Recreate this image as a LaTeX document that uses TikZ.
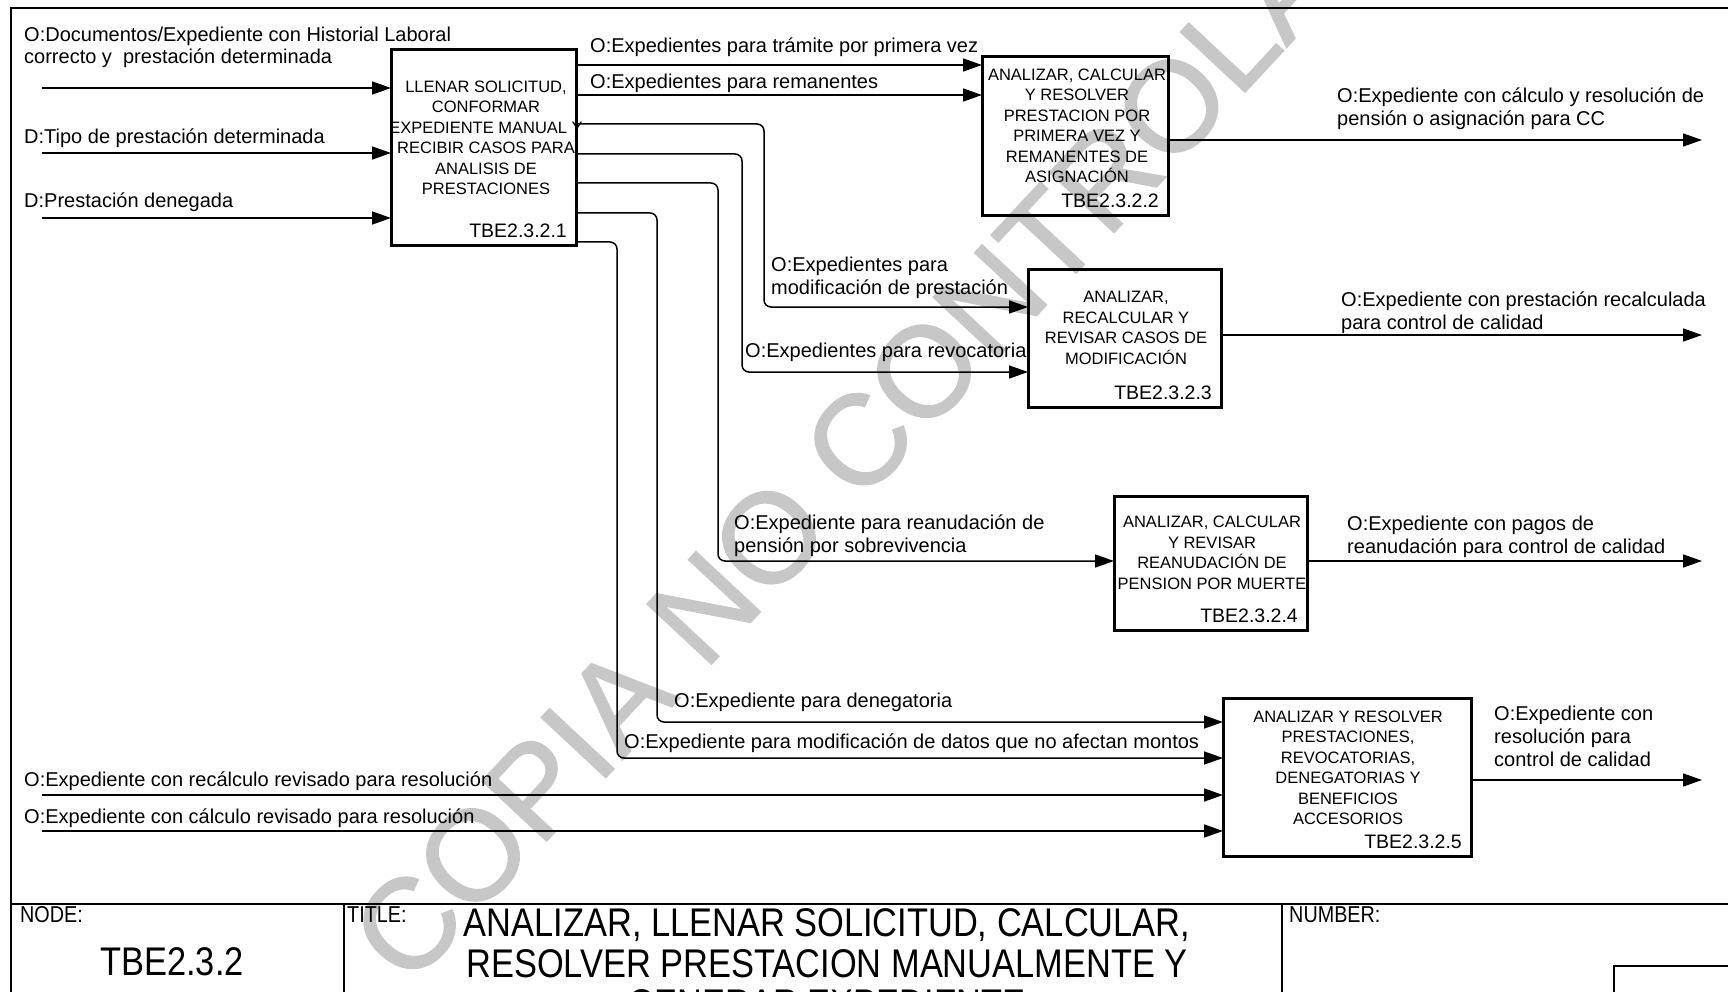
\documentclass[tikz,border=0pt]{standalone}
\usepackage{fontspec}
\setmainfont{Liberation Sans}
\newfontfamily\narrowfont[FakeStretch=0.86]{Liberation Sans}
\newfontfamily\wmfont[FakeBold=1.2]{Liberation Sans}
\usetikzlibrary{arrows.meta,calc}
\tikzset{
 lbl/.style={anchor=base west, inner sep=0pt, font=\fontsize{20}{22.5}\selectfont},
 proc/.style={draw, line width=3pt, anchor=north west, inner sep=0pt, outer sep=0pt},
 boxtxt/.style={align=center, inner sep=0pt, font=\fontsize{16.5}{20.5}\selectfont},
 boxid/.style={anchor=base east, inner sep=0pt, font=\fontsize{19.5}{20.5}\selectfont},
 arr/.style={line width=1.5pt, -{Triangle[length=19pt,width=13pt]}},
 rc/.style={rounded corners=7pt},
 frame/.style={line width=1.6pt},
 small/.style={anchor=base west, inner sep=0pt, font=\narrowfont\fontsize{23}{24}\selectfont},
 big/.style={anchor=base, inner sep=0pt, font=\narrowfont\fontsize{40}{42}\selectfont},
 wm/.style={text=black!22, font=\wmfont\fontsize{128}{128}\selectfont, rotate=47, inner sep=0pt},
}
\begin{document}
\begin{tikzpicture}[x=1pt,y=-1pt]
\useasboundingbox (0,0) rectangle (1728,992);
\fill[white] (0,0) rectangle (1728,992);
\clip (0,0) rectangle (1728,992);
% watermark
\node[wm] (wm) at (905,392) {COPIA NO CONTROLADA};
% frame and title block
\draw[frame] (11,1010) -- (11,8) -- (1740,8);
\draw[frame] (11,904) -- (1740,904);
\draw[frame] (344,904) -- (344,1010);
\draw[frame] (1282,904) -- (1282,1010);
\draw[frame] (1614,1010) -- (1614,966) -- (1740,966);
\node[small] (nodelbl) at (20,922) {NODE:};
\node[small] (titlelbl) at (347,922) {TITLE:};
\node[small] (numlbl) at (1289,922) {NUMBER:};
\node[big] (nodeid) at (172,975) {TBE2.3.2};
\node[big] (t1) at (827,936) {ANALIZAR, LLENAR SOLICITUD, CALCULAR,};
\node[big] (t2) at (827,977) {RESOLVER PRESTACION MANUALMENTE Y};
\node[big] (t3) at (827,1017) {GENERAR EXPEDIENTE};
% boxes
\node[proc, minimum width=185pt, minimum height=196pt] (b1) at (391,50) {};
\node[proc, minimum width=186pt, minimum height=159pt] (b2) at (982,57) {};
\node[proc, minimum width=193pt, minimum height=138pt] (b3) at (1028,269) {};
\node[proc, minimum width=193pt, minimum height=134pt] (b4) at (1114,496) {};
\node[proc, minimum width=248pt, minimum height=158pt] (b5) at (1223,698) {};
\node[boxtxt] (b1t) at (486,138) {LLENAR SOLICITUD,\\CONFORMAR\\EXPEDIENTE MANUAL Y\\RECIBIR CASOS PARA\\ANALISIS DE\\PRESTACIONES};
\node[boxtxt] (b2t) at (1077,126) {ANALIZAR, CALCULAR\\Y RESOLVER\\PRESTACION POR\\PRIMERA VEZ Y\\REMANENTES DE\\ASIGNACIÓN};
\node[boxtxt] (b3t) at (1126,328) {ANALIZAR,\\RECALCULAR Y\\REVISAR CASOS DE\\MODIFICACIÓN};
\node[boxtxt] (b4t) at (1212,553) {ANALIZAR, CALCULAR\\Y REVISAR\\REANUDACIÓN DE\\PENSION POR MUERTE};
\node[boxtxt] (b5t) at (1348,768) {ANALIZAR Y RESOLVER\\PRESTACIONES,\\REVOCATORIAS,\\DENEGATORIAS Y\\BENEFICIOS\\ACCESORIOS};
\node[boxid] (b1id) at ($(b1.south east)+(-9,-8)$) {TBE2.3.2.1};
\node[boxid] (b2id) at ($(b2.south east)+(-9,-8)$) {TBE2.3.2.2};
\node[boxid] (b3id) at ($(b3.south east)+(-9,-8)$) {TBE2.3.2.3};
\node[boxid] (b4id) at ($(b4.south east)+(-9,-8)$) {TBE2.3.2.4};
\node[boxid] (b5id) at ($(b5.south east)+(-9,-8)$) {TBE2.3.2.5};
% free ends
\coordinate (in1) at (42,88);
\coordinate (in2) at (42,153);
\coordinate (in3) at (42,218);
\coordinate (in4) at (42,795);
\coordinate (in5) at (42,831);
\coordinate (out2) at (1702,140);
\coordinate (out3) at (1702,335);
\coordinate (out4) at (1702,561);
\coordinate (out5) at (1702,780);
% connectors
\draw[arr] (in1) -- (b1.west |- in1);
\draw[arr] (in2) -- (b1.west |- in2);
\draw[arr] (in3) -- (b1.west |- in3);
\draw[arr] (b1.east |- 0,65) -- (b2.west |- 0,65);
\draw[arr] (b1.east |- 0,95) -- (b2.west |- 0,95);
\draw[arr,rc] (b1.east |- 0,124) -| (764,307) -- (b3.west |- 0,307);
\draw[arr,rc] (b1.east |- 0,154) -| (742,372) -- (b3.west |- 0,372);
\draw[arr,rc] (b1.east |- 0,183) -| (718,561) -- (b4.west |- 0,561);
\draw[arr,rc] (b1.east |- 0,213) -| (657,722) -- (b5.west |- 0,722);
\draw[arr,rc] (b1.east |- 0,242) -| (617,758) -- (b5.west |- 0,758);
\draw[arr] (in4) -- (b5.west |- in4);
\draw[arr] (in5) -- (b5.west |- in5);
\draw[arr] (b2.east |- out2) -- (out2);
\draw[arr] (b3.east |- out3) -- (out3);
\draw[arr] (b4.east |- out4) -- (out4);
\draw[arr] (b5.east |- out5) -- (out5);
% labels
\node[lbl] (l1) at (24,42) {O:Documentos/Expediente con Historial Laboral};
\node[lbl] (l1b) at (24,64) {correcto y\ \ prestación determinada};
\node[lbl] (l2) at (24,144) {D:Tipo de prestación determinada};
\node[lbl] (l3) at (24,208) {D:Prestación denegada};
\node[lbl] (l4) at (590,53) {O:Expedientes para trámite por primera vez};
\node[lbl] (l5) at (590,89) {O:Expedientes para remanentes};
\node[lbl] (l6) at (1337,102.5) {O:Expediente con cálculo y resolución de};
\node[lbl] (l6b) at (1337,125.5) {pensión o asignación para CC};
\node[lbl] (l7) at (771,271) {O:Expedientes para};
\node[lbl] (l7b) at (771,294) {modificación de prestación};
\node[lbl] (l8) at (745,357) {O:Expedientes para revocatoria};
\node[lbl] (l9) at (1341,306) {O:Expediente con prestación recalculada};
\node[lbl] (l9b) at (1341,329.5) {para control de calidad};
\node[lbl] (l10) at (734,529) {O:Expediente para reanudación de};
\node[lbl] (l10b) at (734,552) {pensión por sobrevivencia};
\node[lbl] (l11) at (1347,530) {O:Expediente con pagos de};
\node[lbl] (l11b) at (1347,553) {reanudación para control de calidad};
\node[lbl] (l12) at (674,707.5) {O:Expediente para denegatoria};
\node[lbl] (l13) at (624,748) {O:Expediente para modificación de datos que no afectan montos};
\node[lbl] (l14) at (24,786) {O:Expediente con recálculo revisado para resolución};
\node[lbl] (l15) at (24,823) {O:Expediente con cálculo revisado para resolución};
\node[lbl] (l16) at (1494,720) {O:Expediente con};
\node[lbl] (l16b) at (1494,743) {resolución para};
\node[lbl] (l16c) at (1494,766) {control de calidad};
\end{tikzpicture}
\end{document}
